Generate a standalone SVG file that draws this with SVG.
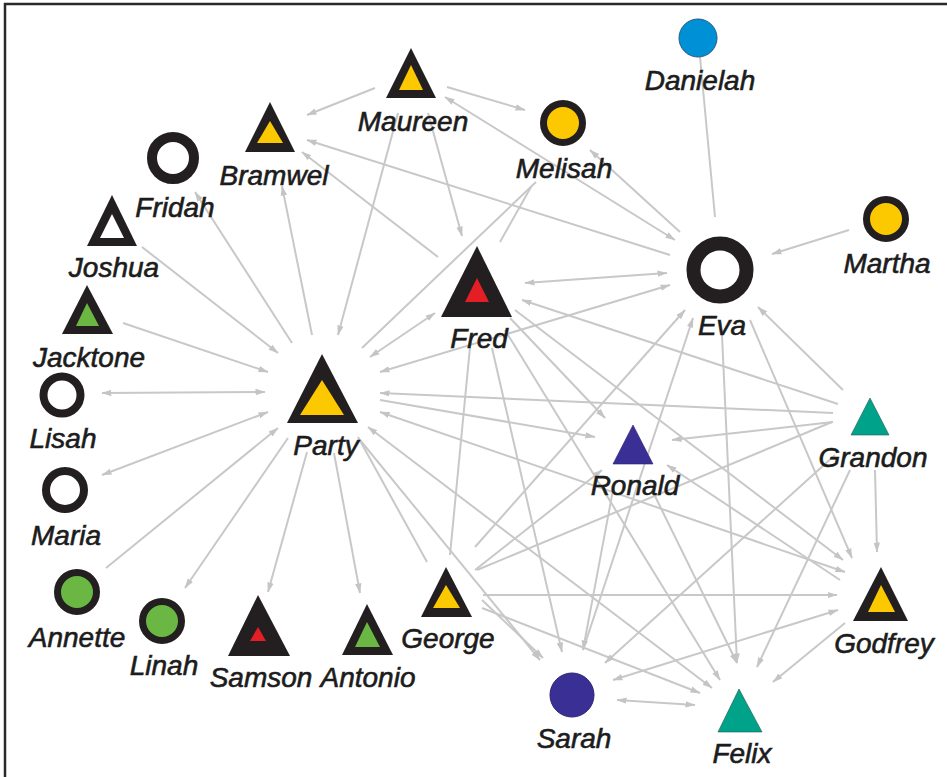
<svg xmlns="http://www.w3.org/2000/svg" width="947" height="777" viewBox="0 0 947 777">
<defs>
<marker id="ah" viewBox="0 0 10 8" markerWidth="10" markerHeight="8" refX="9.5" refY="4" orient="auto-start-reverse" markerUnits="userSpaceOnUse">
<path d="M0,0.8 L10,4 L0,7.2 z" fill="#c4c4c4"/>
</marker>
</defs>
<style>
.e line{stroke:#c8c8c8;stroke-width:2;fill:none}
.e .t{marker-end:url(#ah)}
.e .b{marker-start:url(#ah);marker-end:url(#ah)}
text{font-family:"Liberation Sans",Arial,sans-serif;font-style:italic;font-size:28px;fill:#1c1c1c;text-anchor:middle;stroke:#1c1c1c;stroke-width:0.6}
.k{fill:#231f20}
.y{fill:#fcc800}
.g{fill:#6ab843}
.r{fill:#e31e24}
.w{fill:#ffffff}
.ring{fill:none;stroke:#231f20}
.dot{stroke:#231f20}
</style>
<rect width="947" height="777" fill="#ffffff"/>
<path d="M5,777 V4 H947" fill="none" stroke="#2a2a2a" stroke-width="2.5"/>
<g class="e" id="edges">
<line class="t" x1="375" y1="88" x2="307" y2="115"/>
<line class="t" x1="447" y1="87" x2="525" y2="110"/>
<line class="b" x1="675" y1="240" x2="445" y2="97"/>
<line class="t" x1="398" y1="113" x2="338" y2="335"/>
<line class="t" x1="428" y1="113" x2="462" y2="236"/>
<line class="t" x1="670" y1="255" x2="307" y2="140"/>
<line class="t" x1="438" y1="257" x2="302" y2="152"/>
<line class="t" x1="312" y1="335" x2="282" y2="186"/>
<line class="t" x1="292" y1="343" x2="195" y2="192"/>
<line class="t" x1="142" y1="247" x2="278" y2="353"/>
<line class="t" x1="123" y1="323" x2="268" y2="372"/>
<line class="b" x1="265" y1="392" x2="102" y2="393"/>
<line class="b" x1="268" y1="412" x2="102" y2="475"/>
<line class="t" x1="106" y1="568" x2="278" y2="428"/>
<line class="t" x1="288" y1="438" x2="185" y2="588"/>
<line class="t" x1="307" y1="452" x2="268" y2="592"/>
<line class="t" x1="334" y1="453" x2="360" y2="593"/>
<line x1="427" y1="562" x2="358" y2="437"/>
<line class="b" x1="712" y1="688" x2="368" y2="427"/>
<line class="t" x1="360" y1="440" x2="540" y2="660"/>
<line class="t" x1="380" y1="400" x2="595" y2="437"/>
<line class="t" x1="833" y1="413" x2="380" y2="393"/>
<line class="b" x1="380" y1="412" x2="845" y2="572"/>
<line class="b" x1="370" y1="357" x2="435" y2="313"/>
<line class="b" x1="380" y1="372" x2="670" y2="285"/>
<line x1="536" y1="182" x2="362" y2="348"/>
<line x1="531" y1="187" x2="500" y2="242"/>
<line class="b" x1="525" y1="283" x2="667" y2="273"/>
<line class="t" x1="838" y1="404" x2="522" y2="300"/>
<line x1="700" y1="57" x2="715" y2="217"/>
<line class="t" x1="849" y1="230" x2="772" y2="254"/>
<line class="t" x1="680" y1="232" x2="590" y2="150"/>
<line x1="470" y1="347" x2="450" y2="555"/>
<line class="t" x1="492" y1="348" x2="562" y2="652"/>
<line class="t" x1="505" y1="330" x2="720" y2="680"/>
<line class="t" x1="515" y1="310" x2="843" y2="560"/>
<line class="t" x1="510" y1="318" x2="605" y2="418"/>
<line class="t" x1="475" y1="547" x2="685" y2="310"/>
<line class="t" x1="583" y1="650" x2="693" y2="318"/>
<line class="t" x1="722" y1="335" x2="737" y2="663"/>
<line class="t" x1="750" y1="320" x2="852" y2="558"/>
<line class="t" x1="843" y1="390" x2="758" y2="307"/>
<line class="t" x1="833" y1="422" x2="672" y2="440"/>
<line class="t" x1="840" y1="580" x2="667" y2="465"/>
<line class="t" x1="475" y1="570" x2="602" y2="470"/>
<line class="t" x1="613" y1="490" x2="583" y2="650"/>
<line class="t" x1="652" y1="490" x2="737" y2="663"/>
<line x1="477" y1="570" x2="832" y2="422"/>
<line class="t" x1="483" y1="595" x2="837" y2="595"/>
<line class="b" x1="613" y1="680" x2="838" y2="610"/>
<line class="t" x1="482" y1="608" x2="700" y2="693"/>
<line class="t" x1="482" y1="600" x2="543" y2="658"/>
<line class="t" x1="835" y1="455" x2="605" y2="663"/>
<line class="t" x1="850" y1="470" x2="757" y2="667"/>
<line class="t" x1="875" y1="470" x2="877" y2="552"/>
<line class="t" x1="845" y1="623" x2="773" y2="682"/>
<line class="b" x1="617" y1="700" x2="695" y2="705"/>
</g>
<g id="maureen"><polygon class="k" points="411,48 436,98 386,98"/><polygon class="y" points="411,65 423,90 399,90"/><text x="413" y="131">Maureen</text></g>
<g id="bramwel"><polygon class="k" points="270,102 295,152 245,152"/><polygon class="y" points="270,121 283,143 257,143"/><text x="274" y="185">Bramwel</text></g>
<g id="fridah"><circle class="ring" cx="173" cy="158" r="21" stroke-width="10"/><text x="175" y="217">Fridah</text></g>
<g id="joshua"><polygon class="k" points="112,195 137,246 87,246"/><polygon class="w" points="112,214 124,238 100,238"/><text x="114" y="277">Joshua</text></g>
<g id="jacktone"><polygon class="k" points="87,285 113,334 62,334"/><polygon class="g" points="87,303 99,326 76,326"/><text x="89" y="367">Jacktone</text></g>
<g id="lisah"><circle class="ring" cx="62" cy="395" r="18.5" stroke-width="8"/><text x="63" y="448">Lisah</text></g>
<g id="maria"><circle class="ring" cx="65" cy="490" r="19" stroke-width="8"/><text x="66" y="545">Maria</text></g>
<g id="annette"><circle class="g dot" cx="77" cy="592" r="19.5" stroke-width="7"/><text x="77" y="647">Annette</text></g>
<g id="linah"><circle class="g dot" cx="162" cy="621" r="19.5" stroke-width="7"/><text x="164" y="675">Linah</text></g>
<g id="samson"><polygon class="k" points="258,595 290,656 228,656"/><polygon class="r" points="258,627 266,641 250,641"/><text x="261" y="687">Samson</text></g>
<g id="antonio"><polygon class="k" points="367,604 393,655 342,655"/><polygon class="g" points="367,622 380,647 355,647"/><text x="368" y="687">Antonio</text></g>
<g id="george"><polygon class="k" points="446,567 472,617 421,617"/><polygon class="y" points="446,585 460,608 433,608"/><text x="448" y="648">George</text></g>
<g id="party"><polygon class="k" points="322,354 358,423 287,423"/><polygon class="y" points="322,380 344,415 300,415"/><text x="326" y="455">Party</text></g>
<g id="fred"><polygon class="k" points="477,246 512,317 441,317"/><polygon class="r" points="477,278 489,302 465,302"/><text x="479" y="348">Fred</text></g>
<g id="melisah"><circle class="y dot" cx="563" cy="123" r="19.5" stroke-width="7"/><text x="564" y="178">Melisah</text></g>
<g id="danielah"><circle cx="698" cy="38" r="19" fill="#0090d5" stroke="#2a5a80" stroke-width="1"/><text x="700" y="90">Danielah</text></g>
<g id="eva"><circle class="ring" cx="720" cy="270" r="26.5" stroke-width="14"/><text x="722" y="335">Eva</text></g>
<g id="martha"><circle class="y dot" cx="886" cy="219" r="19.5" stroke-width="7"/><text x="887" y="273">Martha</text></g>
<g id="grandon"><polygon points="870,398 889,435 851,435" fill="#00a38a" stroke="#1d5a50" stroke-width="0.6"/><text x="873" y="467">Grandon</text></g>
<g id="ronald"><polygon points="633,425 653,464 613,464" fill="#3a2f94" stroke="#2a2270" stroke-width="0.6"/><text x="635" y="495">Ronald</text></g>
<g id="godfrey"><polygon class="k" points="881,567 908,621 853,621"/><polygon class="y" points="881,585 895,612 868,612"/><text x="884" y="653">Godfrey</text></g>
<g id="sarah"><circle cx="572" cy="695" r="22" fill="#3a2f94" stroke="#2a2270" stroke-width="1"/><text x="574" y="748">Sarah</text></g>
<g id="felix"><polygon points="739,689 762,732 718,732" fill="#00a38a" stroke="#1d5a50" stroke-width="0.6"/><text x="742" y="763">Felix</text></g>
</svg>
